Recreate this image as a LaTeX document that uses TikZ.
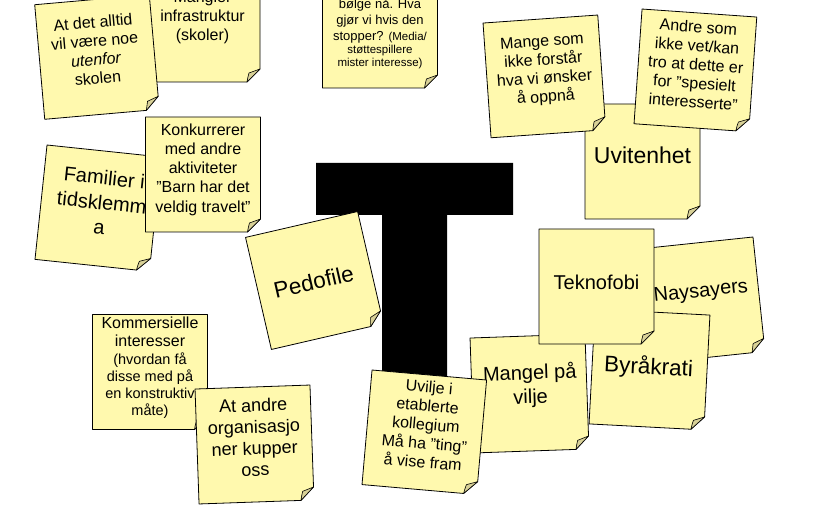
\documentclass[tikz,border=0pt]{standalone}
\usepackage{fontspec}
\setmainfont{Liberation Sans}
\usetikzlibrary{calc}
\definecolor{cNOTE}{HTML}{FFF9AE}
\definecolor{cFOLD}{HTML}{D8D197}
\tikzset{
  notebox/.style={
    draw=black, line width=0.8pt,
    fill=cNOTE,
    line join=round
  },
  notefold/.style={
    draw=black, line width=0.6pt,
    fill=cFOLD,
    line join=round
  },
  notetext/.style={
    align=center,
    inner sep=0pt,
    text=black
  },
  bigT/.style={
    fill=black
  }
}
\newcommand{\nfont}[2]{\fontsize{#1}{#2}\selectfont}
\newcommand{\qq}{\symbol{34}}
% #1 name, #2 centre, #3 turn, #4 text position, #5 text options, #6 text
\newcommand{\stickynote}[6]{%
  \begin{scope}[shift={#2}, rotate=#3]
    \path[notebox] (-57.5,-57.5) -- (57.5,-57.5) -- (57.5,44.5) -- (44.5,57.5) -- (-57.5,57.5) -- cycle;
    \path[notefold] (57.5,44.5) .. controls (52,47) .. (46.5,48.5) .. controls (45.5,52) .. (44.5,57.5) -- cycle;
    \node[notetext, rotate=#3, #5] (#1) at #4 {#6};
  \end{scope}%
}

\begin{document}
\begin{tikzpicture}[x=1pt, y=-1pt]
  \useasboundingbox (0,0) rectangle (825,510);
  \clip (0,0) rectangle (825,510);

  % the big T
  \fill[bigT] (316,163) -- (513,163) -- (513,215) -- (447,215) -- (447,430)
    -- (382,430) -- (382,215) -- (316,215) -- cycle;

  % top left
  \stickynote{infra}{(202.5,24.5)}{0}{(0,-7)}{font=\nfont{16}{19}}{Mangler\\infrastruktur\\(skoler)}
  \stickynote{utenfor}{(97,57)}{5}{(-1,-7)}{font=\nfont{16}{18.7}}{At det alltid\\vil være noe\\\textit{utenfor}\\skolen}
  \stickynote{bolge}{(380,30.5)}{0}{(0,3)}{font=\nfont{13}{16}}{bølge nå. Hva\\gjør vi hvis den\\stopper? {\nfont{11.5}{13}(Media/}\\[-2.5pt]{\nfont{11.5}{13}støttespillere}\\[-3pt]{\nfont{11.5}{13}mister interesse)}}

  % top right
  \stickynote{uvitenhet}{(642.5,161.5)}{0}{(0,-6)}{font=\nfont{23}{26}}{Uvitenhet}
  \stickynote{forstaar}{(544.4,76.4)}{4}{(0,-6)}{font=\nfont{16}{18.5}}{Mange som\\ikke forstår\\hva vi ønsker\\å oppnå}
  \stickynote{spesielt}{(695.4,70.4)}{-4}{(0,-6)}{font=\nfont{16}{18.8}}{Andre som\\ikke vet/kan\\tro at dette er\\for \qq spesielt\\interesserte\qq}

  % left
  \stickynote{familier}{(98.2,208.2)}{-6}{(3,-6)}{font=\nfont{20}{25}}{Familier i\\tidsklemm\\a}
  \stickynote{konkurrerer}{(203,174.5)}{0}{(0,-5)}{font=\nfont{16}{19.2}}{Konkurrerer\\med andre\\aktiviteter\\\qq Barn har det\\veldig travelt\qq}

  \stickynote{pedofile}{(314.5,280.5)}{13}{(-1,1)}{font=\nfont{22.5}{26}}{Pedofile}

  % right cluster
  \stickynote{naysayers}{(701.8,300.2)}{6}{(0,-8)}{font=\nfont{20}{24}}{Naysayers}
  \stickynote{byrakrati}{(649.5,369.5)}{-3}{(-1,-2)}{font=\nfont{22.5}{26}}{Byråkrati}
  \stickynote{mangel}{(529.5,393.5)}{2}{(1,-8)}{font=\nfont{20}{24}}{Mangel på\\vilje}
  \stickynote{teknofobi}{(596.5,286.5)}{0}{(0,-4.5)}{font=\nfont{20}{24}}{Teknofobi}

  \stickynote{uvilje}{(424.3,432.3)}{-5}{(1,-8)}{font=\nfont{16}{18.8}}{Uvilje i\\etablerte\\kollegium\\Må ha \qq ting\qq\\å vise fram}

  % bottom left
  \stickynote{kommersielle}{(150,372)}{0}{(0,-4.5)}{font=\nfont{16}{18.5}}{Kommersielle\\interesser\\[-0.5pt]{\nfont{14.5}{17}(hvordan få}\\[-1.5pt]{\nfont{14.5}{17}disse med på}\\[-1.5pt]{\nfont{14.5}{17}en konstruktiv}\\[-1.5pt]{\nfont{14.5}{17}måte)}}
  \stickynote{kupper}{(254.5,444.5)}{2}{(0,-7)}{font=\nfont{18}{21.5}}{At andre\\organisasjo\\ner kupper\\oss}
\end{tikzpicture}
\end{document}
